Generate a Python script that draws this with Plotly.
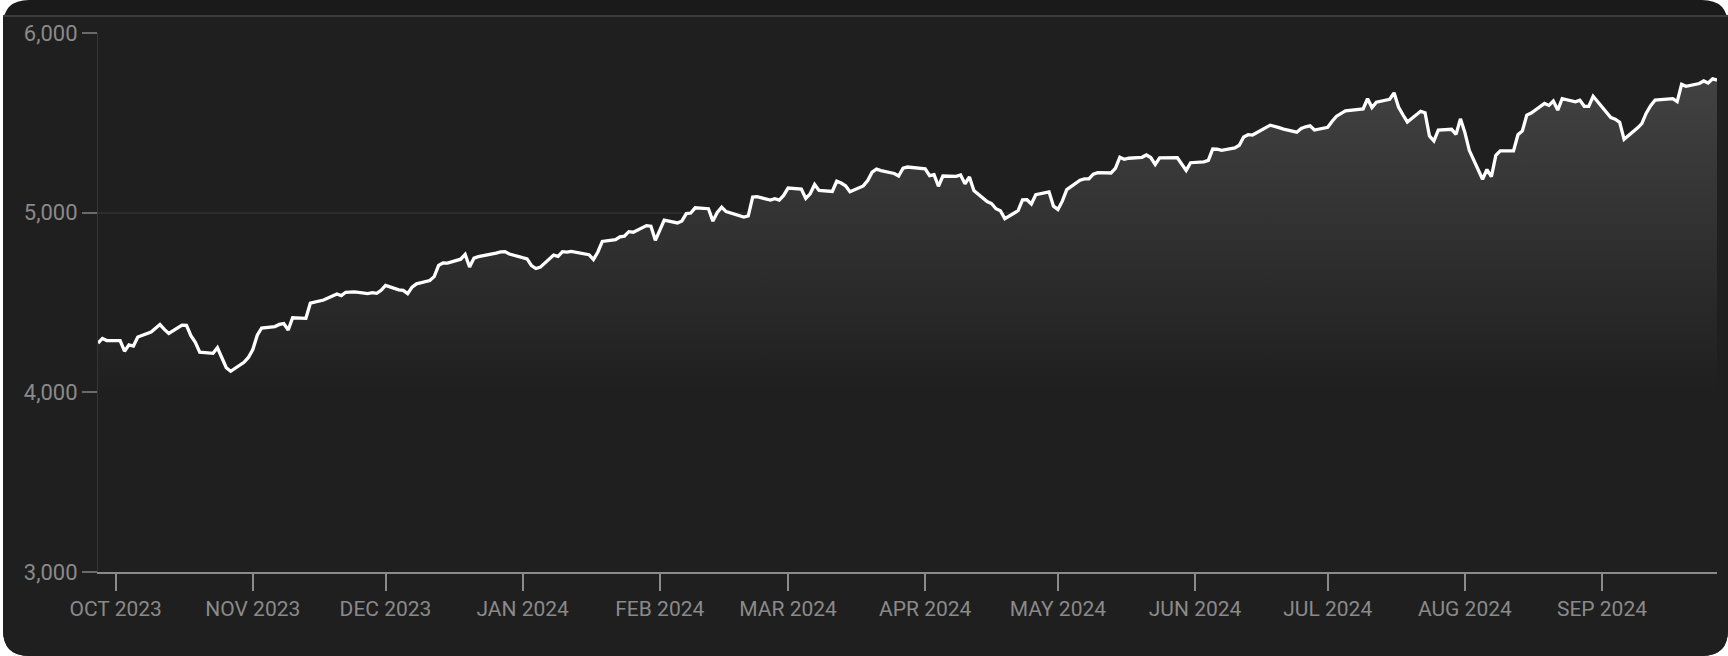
import plotly.graph_objects as go

# ---------------- data ----------------
dates = [
 "2023-09-27","2023-09-28","2023-09-29","2023-10-02","2023-10-03","2023-10-04","2023-10-05","2023-10-06",
 "2023-10-09","2023-10-10","2023-10-11","2023-10-12","2023-10-13","2023-10-16","2023-10-17","2023-10-18",
 "2023-10-19","2023-10-20","2023-10-23","2023-10-24","2023-10-25","2023-10-26","2023-10-27","2023-10-30",
 "2023-10-31","2023-11-01","2023-11-02","2023-11-03","2023-11-06","2023-11-07","2023-11-08","2023-11-09",
 "2023-11-10","2023-11-13","2023-11-14","2023-11-15","2023-11-16","2023-11-17","2023-11-20","2023-11-21",
 "2023-11-22","2023-11-24","2023-11-27","2023-11-28","2023-11-29","2023-11-30","2023-12-01","2023-12-04",
 "2023-12-05","2023-12-06","2023-12-07","2023-12-08","2023-12-11","2023-12-12","2023-12-13","2023-12-14",
 "2023-12-15","2023-12-18","2023-12-19","2023-12-20","2023-12-21","2023-12-22","2023-12-26","2023-12-27",
 "2023-12-28","2023-12-29","2024-01-02","2024-01-03","2024-01-04","2024-01-05","2024-01-08","2024-01-09",
 "2024-01-10","2024-01-11","2024-01-12","2024-01-16","2024-01-17","2024-01-18","2024-01-19","2024-01-22",
 "2024-01-23","2024-01-24","2024-01-25","2024-01-26","2024-01-29","2024-01-30","2024-01-31","2024-02-01",
 "2024-02-02","2024-02-05","2024-02-06","2024-02-07","2024-02-08","2024-02-09","2024-02-12","2024-02-13",
 "2024-02-14","2024-02-15","2024-02-16","2024-02-20","2024-02-21","2024-02-22","2024-02-23","2024-02-26",
 "2024-02-27","2024-02-28","2024-02-29","2024-03-01","2024-03-04","2024-03-05","2024-03-06","2024-03-07",
 "2024-03-08","2024-03-11","2024-03-12","2024-03-13","2024-03-14","2024-03-15","2024-03-18","2024-03-19",
 "2024-03-20","2024-03-21","2024-03-22","2024-03-25","2024-03-26","2024-03-27","2024-03-28","2024-04-01",
 "2024-04-02","2024-04-03","2024-04-04","2024-04-05","2024-04-08","2024-04-09","2024-04-10","2024-04-11",
 "2024-04-12","2024-04-15","2024-04-16","2024-04-17","2024-04-18","2024-04-19","2024-04-22","2024-04-23",
 "2024-04-24","2024-04-25","2024-04-26","2024-04-29","2024-04-30","2024-05-01","2024-05-02","2024-05-03",
 "2024-05-06","2024-05-07","2024-05-08","2024-05-09","2024-05-10","2024-05-13","2024-05-14","2024-05-15",
 "2024-05-16","2024-05-17","2024-05-20","2024-05-21","2024-05-22","2024-05-23","2024-05-24","2024-05-28",
 "2024-05-29","2024-05-30","2024-05-31","2024-06-03","2024-06-04","2024-06-05","2024-06-06","2024-06-07",
 "2024-06-10","2024-06-11","2024-06-12","2024-06-13","2024-06-14","2024-06-17","2024-06-18","2024-06-20",
 "2024-06-21","2024-06-24","2024-06-25","2024-06-26","2024-06-27","2024-06-28","2024-07-01","2024-07-02",
 "2024-07-03","2024-07-05","2024-07-08","2024-07-09","2024-07-10","2024-07-11","2024-07-12","2024-07-15",
 "2024-07-16","2024-07-17","2024-07-18","2024-07-19","2024-07-22","2024-07-23","2024-07-24","2024-07-25",
 "2024-07-26","2024-07-29","2024-07-30","2024-07-31","2024-08-01","2024-08-02","2024-08-05","2024-08-06",
 "2024-08-07","2024-08-08","2024-08-09","2024-08-12","2024-08-13","2024-08-14","2024-08-15","2024-08-16",
 "2024-08-19","2024-08-20","2024-08-21","2024-08-22","2024-08-23","2024-08-26","2024-08-27","2024-08-28",
 "2024-08-29","2024-08-30","2024-09-03","2024-09-04","2024-09-05","2024-09-06","2024-09-09","2024-09-10",
 "2024-09-11","2024-09-12","2024-09-13","2024-09-16","2024-09-17","2024-09-18","2024-09-19","2024-09-20",
 "2024-09-23","2024-09-24","2024-09-25","2024-09-26","2024-09-27",
]

close = [
 4274, 4300, 4288, 4288, 4229, 4264, 4258, 4308,
 4336, 4358, 4377, 4350, 4328, 4374, 4373, 4315,
 4278, 4224, 4217, 4248, 4187, 4137, 4117, 4167,
 4194, 4238, 4318, 4358, 4366, 4378, 4383, 4347,
 4415, 4412, 4496, 4503, 4508, 4514, 4547, 4538,
 4557, 4559, 4550, 4555, 4551, 4568, 4595, 4570,
 4567, 4549, 4586, 4604, 4622, 4644, 4707, 4720,
 4719, 4741, 4768, 4698, 4747, 4755, 4775, 4782,
 4783, 4770, 4743, 4705, 4689, 4697, 4764, 4757,
 4783, 4780, 4784, 4766, 4739, 4781, 4840, 4850,
 4865, 4869, 4894, 4891, 4928, 4925, 4846, 4906,
 4959, 4943, 4954, 4995, 4998, 5027, 5022, 4953,
 5001, 5030, 5006, 4976, 4982, 5087, 5089, 5070,
 5078, 5070, 5096, 5137, 5131, 5079, 5105, 5157,
 5124, 5118, 5175, 5165, 5150, 5117, 5149, 5179,
 5225, 5242, 5234, 5218, 5204, 5248, 5254, 5244,
 5206, 5211, 5147, 5204, 5202, 5210, 5161, 5199,
 5123, 5062, 5051, 5022, 5011, 4967, 5011, 5071,
 5072, 5048, 5100, 5116, 5036, 5018, 5064, 5128,
 5181, 5188, 5188, 5214, 5223, 5221, 5247, 5308,
 5297, 5303, 5308, 5321, 5307, 5268, 5305, 5306,
 5267, 5235, 5278, 5283, 5291, 5354, 5353, 5347,
 5361, 5375, 5421, 5434, 5432, 5473, 5487, 5473,
 5465, 5448, 5469, 5478, 5483, 5460, 5475, 5509,
 5537, 5567, 5573, 5577, 5634, 5585, 5615, 5631,
 5667, 5588, 5545, 5505, 5564, 5556, 5427, 5399,
 5459, 5464, 5436, 5522, 5447, 5347, 5186, 5240,
 5200, 5319, 5344, 5344, 5434, 5455, 5543, 5554,
 5608, 5597, 5621, 5571, 5635, 5617, 5626, 5592,
 5592, 5648, 5529, 5520, 5503, 5408, 5471, 5496,
 5554, 5596, 5626, 5633, 5635, 5618, 5714, 5703,
 5719, 5733, 5722, 5745, 5738,
]

month_ticks = ["2023-10-01","2023-11-01","2023-12-01","2024-01-01","2024-02-01","2024-03-01",
               "2024-04-01","2024-05-01","2024-06-01","2024-07-01","2024-08-01","2024-09-01"]
month_labels = ["OCT 2023","NOV 2023","DEC 2023","JAN 2024","FEB 2024","MAR 2024",
                "APR 2024","MAY 2024","JUN 2024","JUL 2024","AUG 2024","SEP 2024"]
y_ticks = [3000, 4000, 5000, 6000]

# ---------------- layout geometry ----------------
W, H = 1728, 656
L, R, T, B = 98, 11, 33, 84
PW, PH = W - L - R, H - T - B

def px(x):
    return (x - L) / PW

def py(y):
    return (H - B - y) / PH

def rounded_path(x0, y0, x1, y1, r_top, r_bot):
    pts = [
        ("M", [(x0 + r_top, y0)]),
        ("L", [(x1 - r_top, y0)]),
        ("Q", [(x1, y0), (x1, y0 + r_top)]),
        ("L", [(x1, y1 - r_bot)]),
        ("Q", [(x1, y1), (x1 - r_bot, y1)]),
        ("L", [(x0 + r_bot, y1)]),
        ("Q", [(x0, y1), (x0, y1 - r_bot)]),
        ("L", [(x0, y0 + r_top)]),
        ("Q", [(x0, y0), (x0 + r_top, y0)]),
    ]
    s = ""
    for cmd, ps in pts:
        s += cmd + " " + " ".join(f"{px(a):.6f},{py(b):.6f}" for a, b in ps) + " "
    return s + "Z"

BG_TOP = "#1a1a1a"
BG = "#1f1f1f"
TXT = "#8a8a8a"

fig = go.Figure()
fig.add_trace(go.Scatter(
    x=dates, y=close, mode="lines",
    line=dict(color="#ffffff", width=3.3),
    fill="tozeroy",
    fillgradient=dict(type="vertical", start=4000, stop=5750,
                      colorscale=[[0, BG], [1, "#424242"]]),
    hoverinfo="skip", showlegend=False,
))

shapes = [
    dict(type="path", xref="paper", yref="paper", layer="below",
         path=rounded_path(3, 0, 1728, 656, 26, 26),
         fillcolor=BG_TOP, line=dict(width=0)),
    dict(type="path", xref="paper", yref="paper", layer="below",
         path=rounded_path(3, 16, 1728, 656, 0, 26),
         fillcolor=BG, line=dict(width=0)),
    dict(type="line", xref="paper", yref="paper", layer="below",
         x0=px(3), x1=px(1728), y0=py(16), y1=py(16),
         line=dict(color="#3c3c3c", width=2)),
]

fig.update_layout(
    width=W, height=H,
    margin=dict(l=L, r=R, t=T, b=B, pad=0),
    paper_bgcolor="#ffffff",
    plot_bgcolor="rgba(0,0,0,0)",
    font=dict(family="Roboto, Arial, sans-serif", size=22, color=TXT),
    shapes=shapes,
    hovermode=False,
    xaxis=dict(
        type="date", range=[dates[0], dates[-1]],
        tickmode="array", tickvals=month_ticks, ticktext=month_labels,
        ticks="outside", ticklen=17, tickwidth=2, tickcolor="#8a8a8a",
        showline=True, linecolor="#8a8a8a", linewidth=2,
        showgrid=False, zeroline=False, fixedrange=True,
        tickfont=dict(size=21, color=TXT),
    ),
    yaxis=dict(
        range=[3000, 6000], tickmode="array", tickvals=y_ticks,
        tickformat=",", ticks="outside", ticklen=15, tickwidth=2, tickcolor="#6a6a6a",
        showline=True, linecolor="#363636", linewidth=1,
        showgrid=True, gridcolor="#2b2b2b", gridwidth=2,
        zeroline=False, fixedrange=True, tickfont=dict(size=22, color=TXT),
    ),
)

fig.write_html("out.html",
               config={"displayModeBar": False},
               post_script="document.body.style.margin='0';document.body.style.overflow='hidden';")
